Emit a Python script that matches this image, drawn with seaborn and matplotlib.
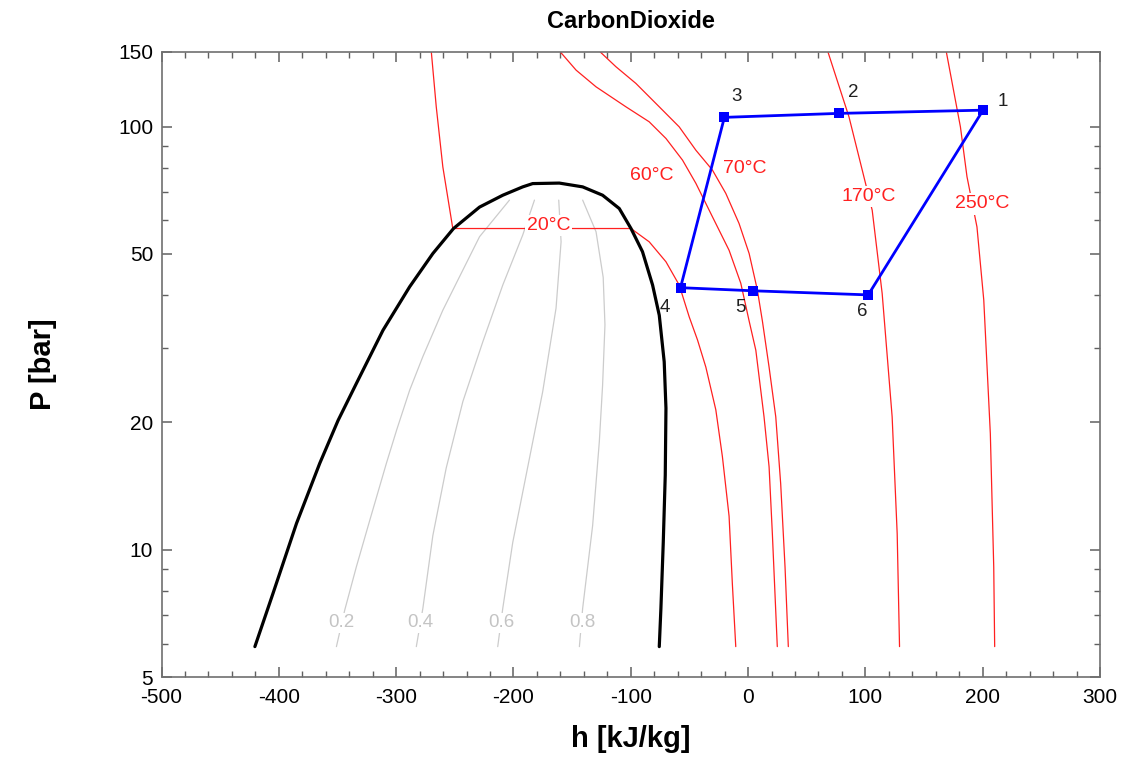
import matplotlib
matplotlib.use("Agg")
import matplotlib.pyplot as plt
import matplotlib.ticker as mticker
import seaborn as sns

# saturation dome (h [kJ/kg], P [bar])
dome_h = [-420.4, -404.9, -384.9, -365.1, -349.5, -333.9, -311.2, -288.5, -268.7, -251.1,
          -228.9, -209.1, -192.1, -183.6, -160.9, -141.0, -124.0, -109.8, -99.8,
          -90.0, -81.4, -75.7, -71.5, -70.0, -70.6, -72.3, -74.3, -75.7]
dome_p = [5.9, 7.89, 11.54, 16.0, 20.2, 24.7, 33.0, 41.8, 50.1, 57.4,
          64.5, 68.8, 72.0, 73.3, 73.5, 72.0, 68.8, 64.0, 57.4,
          50.6, 42.2, 35.8, 27.8, 21.6, 15.0, 10.4, 7.27, 5.9]

# constant quality lines
q_labels = ["0.2", "0.4", "0.6", "0.8"]
q02_h = [-203.4, -228.9, -243.1, -260.2, -277.2, -288.5, -299.5, -308.3, -322.6, -333.9, -343.8, -350.9]
q02_p = [67.0, 54.9, 45.8, 36.8, 28.6, 23.8, 19.2, 16.0, 11.7, 9.11, 7.2, 5.9]
q04_h = [-182.1, -192.1, -209.1, -226.1, -243.1, -257.3, -268.7, -277.2, -282.8]
q04_p = [67.0, 55.4, 42.2, 31.0, 22.4, 15.6, 10.8, 7.27, 5.9]
q06_h = [-161.4, -159.4, -163.7, -175.1, -189.2, -200.6, -209.1, -213.4]
q06_p = [67.0, 53.4, 37.2, 23.6, 15.0, 10.4, 7.27, 5.9]
q08_h = [-141.0, -129.6, -123.5, -122.0, -124.0, -126.8, -132.5, -141.0, -143.8]
q08_p = [67.0, 56.4, 44.0, 34.0, 24.5, 18.0, 11.4, 7.27, 5.9]
q_label_h = [-346.6, -279.1, -210.5, -141.5]
q_label_p = 6.71

# isotherms
t20_h = [-270.0, -265.8, -260.2, -251.7, -99.8, -84.3, -70.0, -58.7, -50.2, -43.1, -36.0,
         -27.5, -21.9, -16.2, -13.4, -10.5]
t20_p = [150, 111.3, 80.3, 57.4, 57.4, 53.4, 47.9, 42.2, 35.5, 31.3, 27.0,
         21.4, 16.6, 12.0, 8.3, 5.9]
t60_h = [-160.0, -146.6, -129.6, -104.1, -84.3, -70.0, -55.9, -44.5, -30.4, -16.2, -6.2,
         0.9, 6.6, 13.6, 17.9, 20.7, 24.9]
t60_p = [150, 135.9, 124.1, 111.3, 102.6, 93.7, 83.3, 73.4, 61.2, 51.0, 42.6,
         34.7, 29.6, 20.6, 15.7, 10.9, 5.9]
t70_h = [-126.0, -112.6, -95.6, -75.7, -58.7, -44.5, -30.4, -19.0, -7.7, 0.9, 7.9,
         12.2, 17.9, 23.6, 27.8, 31.5, 34.3]
t70_p = [150, 138.4, 126.4, 111.3, 99.8, 87.9, 78.9, 69.5, 59.0, 50.1, 41.1,
         34.7, 27.0, 20.6, 14.3, 9.1, 5.9]
t170_h = [68.1, 86.0, 97.3, 105.8, 114.3, 122.8, 127.1, 129.1]
t170_p = [150, 105.4, 78.9, 63.4, 40.3, 20.6, 10.9, 5.9]
t250_h = [169.0, 181.0, 186.6, 195.1, 200.9, 206.5, 209.4, 210.2]
t250_p = [150, 99.8, 76.1, 57.9, 38.9, 18.8, 9.1, 5.9]
t_labels = ["20°C", "60°C", "70°C", "170°C", "250°C"]
t_label_h = [-170.2, -81.7, -2.8, 103.0, 199.4]
t_label_p = [58.3, 76.8, 79.7, 68.2, 65.6]

# cycle states
cyc_names = ["1", "2", "3", "4", "5", "6"]
cyc_h = [200.3, 77.4, -20.2, -57.6, 4.5, 102.4]
cyc_p = [109.3, 107.4, 105.1, 41.6, 40.9, 40.0]

sns.set_theme(style="ticks")
plt.rcParams["font.family"] = ["Liberation Sans", "DejaVu Sans"]
plt.rcParams["text.color"] = "black"
plt.rcParams["axes.labelcolor"] = "black"
plt.rcParams["xtick.labelcolor"] = "black"
plt.rcParams["ytick.labelcolor"] = "black"

fig = plt.figure(figsize=(11.43, 7.59), dpi=100)
ax = fig.add_axes([0.1413, 0.108, 0.8211, 0.8235])


def curve(h, p, color, lw, z=2):
    sns.lineplot(x=h, y=p, ax=ax, color=color, linewidth=lw, sort=False,
                 estimator=None, legend=False, zorder=z)


for qh, qp in [(q02_h, q02_p), (q04_h, q04_p), (q06_h, q06_p), (q08_h, q08_p)]:
    curve(qh, qp, "#cccccc", 0.9)
for lab, lh in zip(q_labels, q_label_h):
    ax.text(lh, q_label_p, lab, color="#c4c4c4", fontsize=13.5, ha="center", va="center",
            bbox=dict(facecolor="white", edgecolor="none", pad=1.0), zorder=3)

for th, tp in [(t20_h, t20_p), (t60_h, t60_p), (t70_h, t70_p), (t170_h, t170_p), (t250_h, t250_p)]:
    curve(th, tp, "#ff2020", 0.9)
for lab, lh, lp in zip(t_labels, t_label_h, t_label_p):
    box = None if lab in ("60°C", "70°C") else dict(facecolor="white", edgecolor="none", pad=1.5)
    ax.text(lh, lp, lab, color="#ff2020", fontsize=14, ha="center", va="center",
            bbox=box, zorder=3)

curve(dome_h, dome_p, "black", 2.3, z=4)

cyc_loop_h = cyc_h + [cyc_h[0]]
cyc_loop_p = cyc_p + [cyc_p[0]]
curve(cyc_loop_h, cyc_loop_p, "#0000ff", 2.0, z=5)
sns.scatterplot(x=cyc_h, y=cyc_p, ax=ax, color="#0000ff", marker="s", s=60,
                edgecolor="#0000ff", linewidth=0, zorder=6, legend=False)
offsets = [(14, 6), (10, 15), (9, 15), (-11, -14), (-9, -12), (-4, -12)]
for name, hh, pp, off in zip(cyc_names, cyc_h, cyc_p, offsets):
    ax.annotate(name, (hh, pp), xytext=off, textcoords="offset points",
                fontsize=13.5, color="#202020", ha="center", va="center", zorder=7)

ax.set_yscale("log")
ax.set_xlim(-500, 300)
ax.set_ylim(5, 150)
ax.set_yticks([5, 10, 20, 50, 100, 150])
ax.yaxis.set_major_formatter(mticker.FuncFormatter(lambda v, _: f"{v:g}"))
ax.yaxis.set_minor_locator(mticker.FixedLocator([6, 7, 8, 9, 30, 40, 60, 70, 80, 90]))
ax.yaxis.set_minor_formatter(mticker.NullFormatter())
ax.set_xticks(range(-500, 301, 100))
ax.xaxis.set_major_formatter(mticker.FuncFormatter(lambda v, _: f"{v:g}"))
ax.xaxis.set_minor_locator(mticker.MultipleLocator(20))

for s in ax.spines.values():
    s.set_visible(True)
    s.set_color("#707070")
    s.set_linewidth(1.2)
ax.tick_params(which="both", direction="in", top=True, right=True, color="#606060")
ax.tick_params(which="major", length=7, width=1.1, labelsize=15, labelcolor="black")
ax.tick_params(axis="y", which="major", pad=6)
ax.tick_params(axis="x", which="major", pad=8)
ax.tick_params(which="minor", length=4, width=1.0)

ax.set_xlabel("h [kJ/kg]", fontsize=21, fontweight="bold", labelpad=13, color="black")
ax.set_ylabel("P [bar]", fontsize=21, fontweight="bold", labelpad=44, color="black")
ax.set_title("CarbonDioxide", fontsize=17, fontweight="bold", pad=17, color="black")

fig.savefig("out.png", dpi=100)
